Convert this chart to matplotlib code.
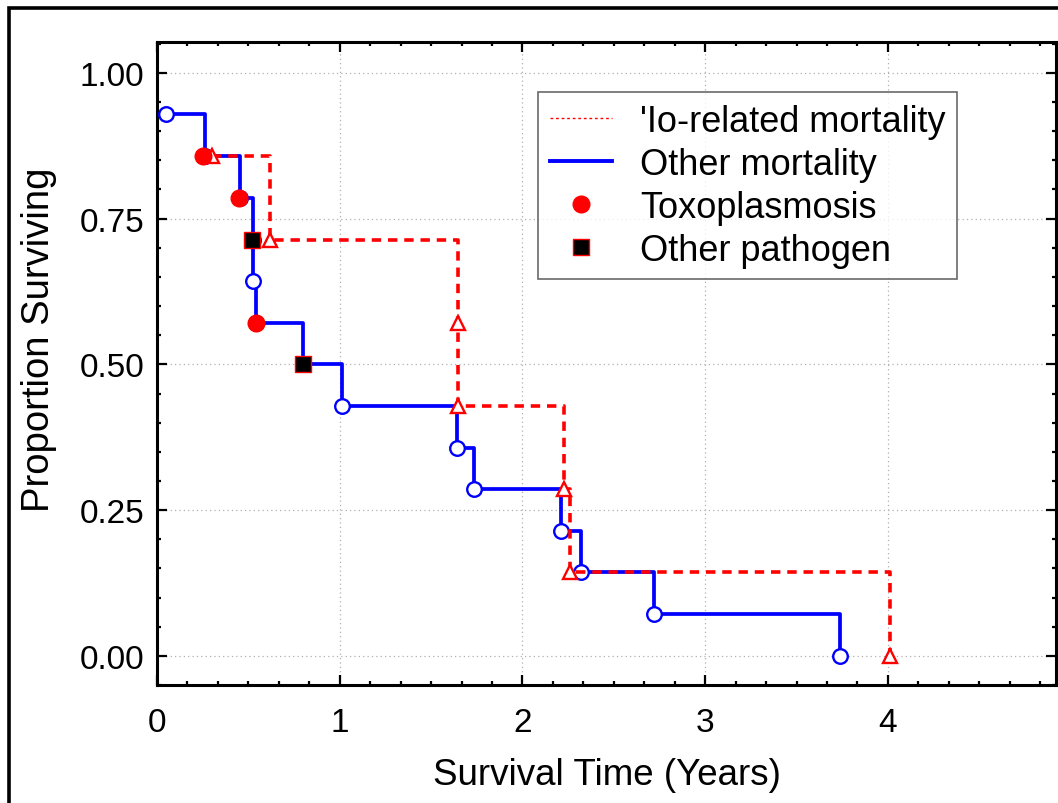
import matplotlib
matplotlib.use("Agg")
import matplotlib.pyplot as plt
from matplotlib.lines import Line2D
from matplotlib.patches import Rectangle
from matplotlib.ticker import MultipleLocator, FormatStrFormatter

plt.rcParams['font.family'] = ['Liberation Sans', 'DejaVu Sans']

# Other mortality (blue) Kaplan-Meier events
other_t = [0.05, 0.263, 0.455, 0.527, 0.525, 0.54, 0.80, 1.01, 1.64, 1.735, 2.21, 2.32, 2.72, 3.74]
other_s = [0.929, 0.857, 0.786, 0.714, 0.643, 0.571, 0.500, 0.429, 0.357, 0.286, 0.214, 0.143, 0.071, 0.000]

# Io-related mortality (red dashed) events
io_t = [0.30, 0.62, 1.65, 1.65, 2.23, 2.26, 4.01]
io_s = [0.857, 0.714, 0.571, 0.429, 0.286, 0.143, 0.000]

# Cause of death markers on the "other mortality" curve
toxo_t = [0.25, 0.45, 0.54]
toxo_s = [0.857, 0.786, 0.571]
path_t = [0.52, 0.80]
path_s = [0.714, 0.500]

legend_labels = ["'Io-related mortality", "Other mortality", "Toxoplasmosis", "Other pathogen"]
xticks = [0, 1, 2, 3, 4]
yticks = [0.00, 0.25, 0.50, 0.75, 1.00]

fig = plt.figure(figsize=(10.58, 8.04), dpi=100)
ax = fig.add_axes([157/1058, (804-686)/804, (1056-157)/1058, (686-43)/804])

ax.plot(other_t, other_s, drawstyle='steps-post', color='#0000ff', lw=2.7, zorder=3)
ax.plot(other_t, other_s, ls='none', marker='o', ms=10.5, mfc='white', mec='#0000ff', mew=1.7, zorder=4)
ax.plot(io_t, io_s, drawstyle='steps-post', color='#ff0000', lw=2.6, dashes=(2.6, 1.9), zorder=5)
ax.plot(io_t, io_s, ls='none', marker='^', ms=10.5, mfc='white', mec='#ff0000', mew=1.7, zorder=6)
ax.plot(toxo_t, toxo_s, ls='none', marker='o', ms=12, mfc='#ff0000', mec='#ff0000', mew=1, zorder=7)
ax.plot(path_t, path_s, ls='none', marker='s', ms=11.5, mfc='black', mec='#ff0000', mew=1, zorder=7)

ax.set_xlim(0, 4.92)
ax.set_ylim(-0.05, 1.053)
ax.set_xticks(xticks)
ax.set_yticks(yticks)
ax.xaxis.set_minor_locator(MultipleLocator(1/6))
ax.yaxis.set_minor_locator(MultipleLocator(0.05))
ax.yaxis.set_major_formatter(FormatStrFormatter('%.2f'))
ax.tick_params(which='both', direction='in', top=True, right=True, labelsize=24, width=1.6)
ax.tick_params(axis='y', pad=9)
ax.tick_params(axis='x', pad=16)
ax.tick_params(which='major', length=7)
ax.tick_params(which='minor', length=3)
for sp in ax.spines.values():
    sp.set_linewidth(2.2)
ax.grid(True, which='major', ls=(0, (1, 2.5)), color='#b0b0b0', lw=0.9, zorder=0)

ax.set_xlabel('Survival Time (Years)', fontsize=26.5)
ax.set_ylabel('Proportion Surviving', fontsize=27.5)
ax.xaxis.set_label_coords(0.5, (686-758)/643)
ax.yaxis.set_label_coords((57-157)/899, (686-340)/643)

handles = [
    Line2D([], [], color='#ff0000', lw=1.0, ls=(0, (2, 2))),
    Line2D([], [], color='#0000ff', lw=2.8),
    Line2D([], [], ls='none', marker='o', ms=12, mfc='#ff0000', mec='#ff0000'),
    Line2D([], [], ls='none', marker='s', ms=11, mfc='black', mec='#ff0000', mew=1),
]
leg = ax.legend(handles, legend_labels, loc='upper left', bbox_to_anchor=(0.424, 0.922),
                fontsize=26, frameon=True, fancybox=False, edgecolor='#444444',
                handlelength=1.72, handletextpad=0.78, borderpad=0.32, labelspacing=0.22,
                borderaxespad=0)
leg.get_frame().set_linewidth(1.2)
leg.set_zorder(10)

# outer frame (left and top visible)
fig.patches.append(Rectangle((9/1058, -0.5), 2.0, 0.5 + (1 - 9/804), transform=fig.transFigure,
                             fill=False, ec='black', lw=2.6))

fig.savefig('out.png', dpi=100)
